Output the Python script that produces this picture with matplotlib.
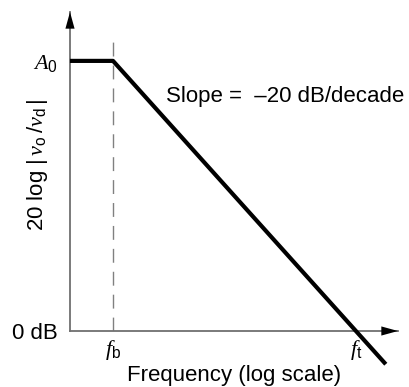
import numpy as np
import matplotlib.pyplot as plt

plt.rcParams['font.family'] = ['Liberation Sans', 'DejaVu Sans']
plt.rcParams['mathtext.fontset'] = 'custom'
plt.rcParams['mathtext.rm'] = 'Liberation Sans'
plt.rcParams['mathtext.it'] = 'Liberation Serif:italic'

# Bode plot of open-loop gain: flat at A0 up to fb, then -20 dB/decade
freq = [1.3, 10, 4.1e6]
gain_db = [100, 100, -12.3]
f_b = 10
f_t = 1e6
a0 = 100
tick_freqs = [f_b, f_t]
tick_freq_labels = [r'$f_{\mathrm{b}}$', r'$f_{\mathrm{t}}$']
tick_gains = [0, a0]
tick_gain_labels = ['0 dB', r'$A_{\mathrm{0}}$']

fig = plt.figure(figsize=(4.10, 3.87), dpi=100)
ax = fig.add_axes([70 / 410, 56 / 387, 328 / 410, 319 / 387])

ax.set_xscale('log')
ax.set_xlim(10 ** 0.115, 10 ** 6.864)
ax.set_ylim(0, 118.1)

ax.plot(freq, gain_db, color='black', linewidth=3.0, clip_on=False,
        solid_capstyle='butt', zorder=3)
ax.vlines(f_b, 0, 107, color='#808080', linestyle=(0, (10, 6.5)), linewidth=1.0)

axcol = '#707070'
for s in ['top', 'right']:
    ax.spines[s].set_visible(False)
for s in ['left', 'bottom']:
    ax.spines[s].set_color(axcol)
    ax.spines[s].set_linewidth(1.3)

# arrow heads
head = dict(arrowstyle='-|>,head_length=1.2,head_width=0.33', color='black',
            lw=0, shrinkA=0, shrinkB=0)
ax.annotate('', xy=(1, 0), xytext=(0.95, 0), xycoords='axes fraction',
            arrowprops=head, annotation_clip=False)
ax.annotate('', xy=(0, 1), xytext=(0, 0.95), xycoords='axes fraction',
            arrowprops=head, annotation_clip=False)

ax.xaxis.set_minor_locator(plt.NullLocator())
ax.set_xticks(tick_freqs, tick_freq_labels, fontsize=16)
ax.set_yticks(tick_gains, tick_gain_labels, fontsize=16)
ax.tick_params(axis='x', length=0, pad=5)
ax.tick_params(axis='y', length=0, pad=9)

ax.set_xlabel('Frequency (log scale)', fontsize=16, labelpad=2)
ax.set_ylabel(r'20 log $|\,v_{\mathrm{o}}\;/v_{\mathrm{d}}\,|$', fontsize=16)
ax.yaxis.set_label_coords(-0.06, 0.52)

ax.text(10 ** 2.1, 87, 'Slope =  \u201320 dB/decade', fontsize=16,
        va='center', ha='left')

fig.savefig('out.png', dpi=100)
